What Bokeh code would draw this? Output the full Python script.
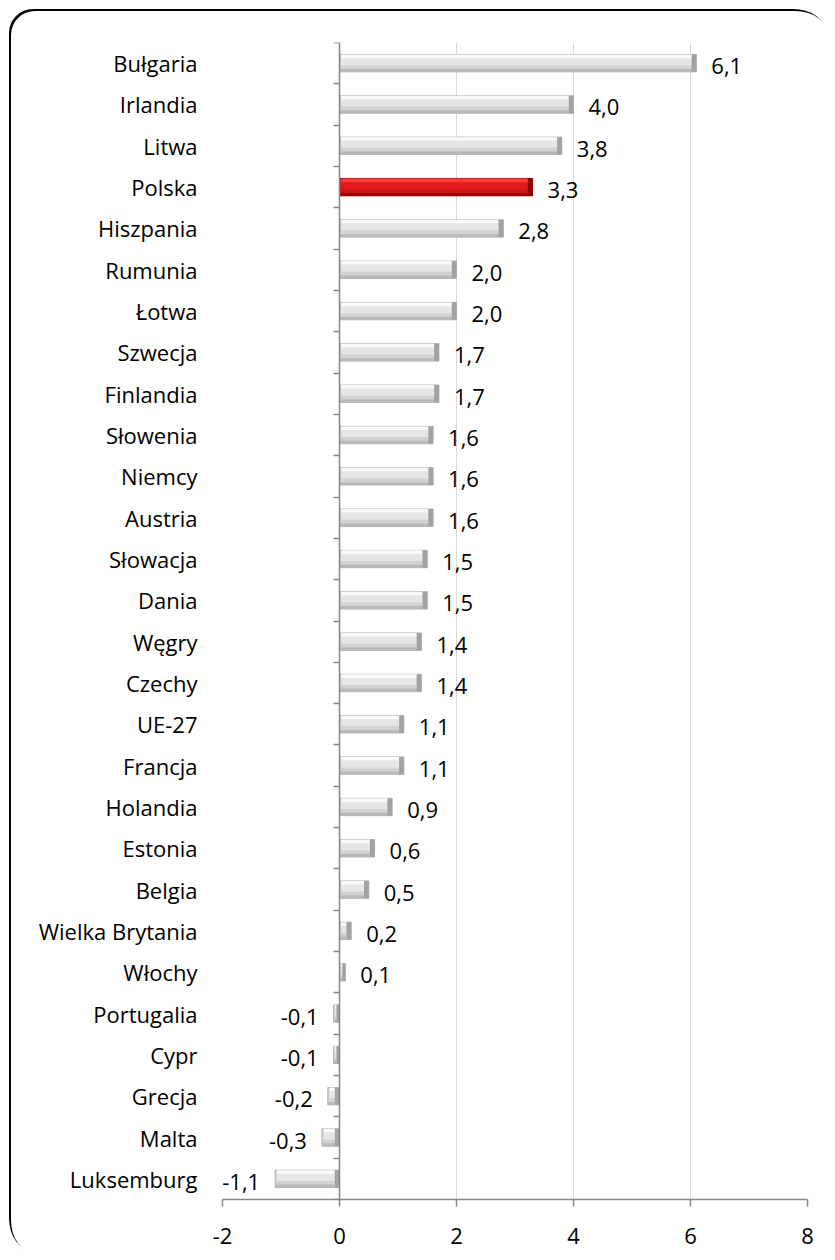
import numpy as np
from bokeh.plotting import figure
from bokeh.models import ColumnDataSource, Range1d, FixedTicker, LinearAxis
from bokeh.core.properties import value
from bokeh.embed import file_html
from bokeh.resources import INLINE

# ---- data (top to bottom) ----
countries = ["Bułgaria", "Irlandia", "Litwa", "Polska", "Hiszpania", "Rumunia", "Łotwa",
             "Szwecja", "Finlandia", "Słowenia", "Niemcy", "Austria", "Słowacja", "Dania",
             "Węgry", "Czechy", "UE-27", "Francja", "Holandia", "Estonia", "Belgia",
             "Wielka Brytania", "Włochy", "Portugalia", "Cypr", "Grecja", "Malta", "Luksemburg"]
values = [6.1, 4.0, 3.8, 3.3, 2.8, 2.0, 2.0, 1.7, 1.7, 1.6, 1.6, 1.6, 1.5, 1.5,
          1.4, 1.4, 1.1, 1.1, 0.9, 0.6, 0.5, 0.2, 0.1, -0.1, -0.1, -0.2, -0.3, -1.1]
highlight = "Polska"
x_ticks = [-2, 0, 2, 4, 6, 8]
x_tick_labels = ["-2", "0", "2", "4", "6", "8"]

FONT = "Open Sans"
FS = "22px"

n = len(countries)
v = np.array(values)
y = np.arange(n)[::-1].astype(float)          # first country at top
left = np.minimum(0, v)
right = np.maximum(0, v)
length = right - left
h = 0.21
cap = np.minimum(0.08, length * 0.5)
inset = np.minimum(0.03, length * 0.2)
is_hi = np.array([c == highlight for c in countries])

def pick(a, b):
    return [a if f else b for f in is_hi]

src = ColumnDataSource(dict(
    y=y, left=left, right=right, v=v,
    base_top=y + h, base_bot=y - h,
    tb_bot=y + h - 0.09, mid_bot=y - 0.05, mid_top=y + h - 0.09,
    bb_top=y - h + 0.07,
    in_left=left + inset, in_right=right - cap, cap_left=right - cap,
    c_base=pick("#cc1414", "#d2d2d2"), c_line=pick("#9a0000", "#b4b4b4"),
    c_top=pick("#ff3a3a", "#fafafa"), c_mid=pick("#e41a1a", "#e6e6e6"),
    c_bot=pick("#a00000", "#b9b9b9"), c_cap=pick("#8c0000", "#a2a2a2"),
    label=[f"{x:.1f}".replace(".", ",") for x in values],
    align=["left" if x >= 0 else "right" for x in values],
    xoff=[15 if x >= 0 else -15 for x in values],
))

p = figure(width=826, height=1251, output_backend="svg", toolbar_location=None,
           x_range=Range1d(-2, 8), y_range=Range1d(-0.5, n - 0.5),
           min_border_left=213, min_border_right=28, min_border_top=33, min_border_bottom=61)
# rounded chart-area border (its right and bottom sides fall beyond the page edge,
# as in the original picture)
p.styles = {"border-top": "9px solid transparent",
            "border-left": "9px solid transparent",
            "border-top-left-radius": "33px",
            "border-top-right-radius": "33px",
            "border-bottom-left-radius": "33px",
            "box-shadow": "inset 2px 2px 0 0 #000000",
            "background": "#ffffff",
            "background-clip": "padding-box"}
p.outline_line_color = None
p.background_fill_color = "#ffffff"
p.border_fill_color = None

# grid
p.xgrid.ticker = FixedTicker(ticks=x_ticks)
p.xgrid.grid_line_color = "#d9d9d9"
p.xgrid.grid_line_width = 1
p.ygrid.grid_line_color = None

# x axis
xa = p.xaxis[0]
xa.ticker = FixedTicker(ticks=x_ticks)
xa.major_label_overrides = {t: s for t, s in zip(x_ticks, x_tick_labels)}
xa.axis_line_color = "#868686"
xa.axis_line_width = 1.5
xa.major_tick_line_color = "#868686"
xa.major_tick_line_width = 1.5
xa.major_tick_out = 7
xa.major_tick_in = 0
xa.minor_tick_line_color = None
xa.major_label_text_font = FONT
xa.major_label_text_font_size = FS
xa.major_label_text_color = "#000000"
xa.major_label_standoff = 21

# y axis labels (left)
ya = p.yaxis[0]
ya.ticker = FixedTicker(ticks=list(y))
ya.major_label_overrides = {int(yy): c for yy, c in zip(y, countries)}
ya.axis_line_color = None
ya.major_tick_line_color = None
ya.minor_tick_line_color = None
ya.major_tick_out = 0
ya.major_tick_in = 0
ya.major_label_standoff = 25
ya.major_label_text_font = FONT
ya.major_label_text_font_size = FS
ya.major_label_text_color = "#000000"

# y axis line at x = 0 with ticks between categories
y0 = LinearAxis(fixed_location=0,
                ticker=FixedTicker(ticks=[i + 0.5 for i in range(-1, n)]),
                axis_line_color="#868686", axis_line_width=1.5,
                major_tick_line_color="#868686", major_tick_line_width=1.5,
                major_tick_out=6, major_tick_in=0, minor_tick_line_color=None,
                major_label_text_font_size="0px", major_label_text_alpha=0)
p.add_layout(y0, "left")

# bars (bevel effect from layered rectangles)
p.quad(left="left", right="right", bottom="base_bot", top="base_top", source=src,
       fill_color="c_base", line_color="c_line", line_width=1)
p.quad(left="in_left", right="in_right", bottom="mid_bot", top="mid_top", source=src,
       fill_color="c_mid", line_color=None)
p.quad(left="in_left", right="in_right", bottom="tb_bot", top="base_top", source=src,
       fill_color="c_top", line_color=None)
p.quad(left="left", right="right", bottom="base_bot", top="bb_top", source=src,
       fill_color="c_bot", line_color=None)
p.quad(left="cap_left", right="right", bottom="base_bot", top="base_top", source=src,
       fill_color="c_cap", line_color=None)

# value labels
p.text(x="v", y="y", text="label", source=src, x_offset="xoff", y_offset=3,
       text_align="align", text_baseline="middle",
       text_font=value(FONT), text_font_size=FS, text_color="#000000")

open("out.html", "w").write(file_html(p, INLINE))
